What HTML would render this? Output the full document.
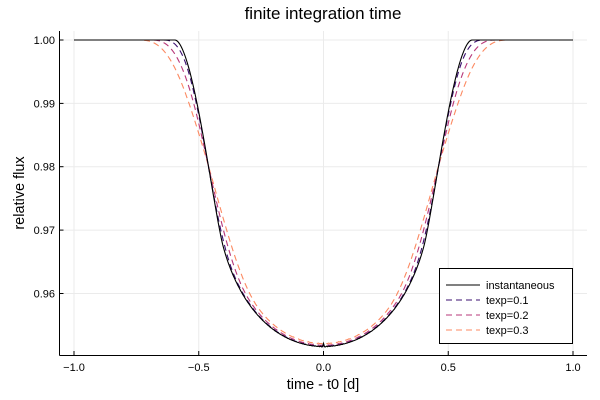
<!DOCTYPE html>
<html><head><meta charset="utf-8"><style>
html,body{margin:0;padding:0;background:#fff;}
svg{display:block;font-family:"Liberation Sans",sans-serif;}
</style></head><body>
<svg id="s" width="600" height="400" viewBox="0 0 600 400" xmlns="http://www.w3.org/2000/svg">
<rect width="600" height="400" fill="#fff"/>
<g stroke="#ebebeb" stroke-width="1">
<line x1="74" y1="31" x2="74" y2="355"/><line x1="198.75" y1="31" x2="198.75" y2="355"/>
<line x1="323.5" y1="31" x2="323.5" y2="355"/><line x1="448.25" y1="31" x2="448.25" y2="355"/>
<line x1="573" y1="31" x2="573" y2="355"/>
<line x1="59.5" y1="40" x2="587" y2="40"/><line x1="59.5" y1="103.4" x2="587" y2="103.4"/>
<line x1="59.5" y1="166.7" x2="587" y2="166.7"/><line x1="59.5" y1="230.1" x2="587" y2="230.1"/>
<line x1="59.5" y1="293.5" x2="587" y2="293.5"/>
</g>
<g stroke="#000" stroke-width="1">
<line x1="59.5" y1="31" x2="59.5" y2="355.5"/><line x1="59.5" y1="355.5" x2="587" y2="355.5"/>
<line x1="74" y1="355" x2="74" y2="351"/><line x1="198.75" y1="355" x2="198.75" y2="351"/>
<line x1="323.5" y1="355" x2="323.5" y2="351"/><line x1="448.25" y1="355" x2="448.25" y2="351"/>
<line x1="573" y1="355" x2="573" y2="351"/>
<line x1="59.5" y1="40" x2="63.5" y2="40"/><line x1="59.5" y1="103.4" x2="63.5" y2="103.4"/>
<line x1="59.5" y1="166.7" x2="63.5" y2="166.7"/><line x1="59.5" y1="230.1" x2="63.5" y2="230.1"/>
<line x1="59.5" y1="293.5" x2="63.5" y2="293.5"/>
</g>
<g font-size="11" fill="#000" text-anchor="end">
<text x="55" y="44">1.00</text><text x="55" y="107.4">0.99</text><text x="55" y="170.7">0.98</text>
<text x="55" y="234.1">0.97</text><text x="55" y="297.5">0.96</text>
</g>
<g font-size="11" fill="#000" text-anchor="middle">
<text x="74" y="371">−1.0</text><text x="198.75" y="371">−0.5</text><text x="323.5" y="371">0.0</text>
<text x="448.25" y="371">0.5</text><text x="573" y="371">1.0</text>
</g>
<text x="323" y="389" font-size="14.5" text-anchor="middle">time - t0 [d]</text>
<text transform="translate(24,193) rotate(-90)" font-size="14.5" text-anchor="middle">relative flux</text>
<text x="323" y="19" font-size="17" text-anchor="middle">finite integration time</text>
<g id="curves" fill="none" stroke-width="1.1"></g>
<rect x="439.5" y="268.5" width="133" height="75" fill="#fff" stroke="#000" stroke-width="1"/>
<g stroke-width="1.1">
<line x1="446" y1="285" x2="480" y2="285" stroke="#000"/>
<line x1="446" y1="300" x2="480" y2="300" stroke="#3b0f70" stroke-dasharray="6,4"/>
<line x1="446" y1="315" x2="480" y2="315" stroke="#b73779" stroke-dasharray="6,4"/>
<line x1="446" y1="330" x2="480" y2="330" stroke="#fc8961" stroke-dasharray="6,4"/>
</g>
<g font-size="11" fill="#000">
<text x="486" y="289">instantaneous</text><text x="486" y="304">texp=0.1</text>
<text x="486" y="319">texp=0.2</text><text x="486" y="334">texp=0.3</text>
</g>
</svg>
<script>
(function(){
var p=0.191,u1=0.6,u2=0.3,v=2.002,N=300;
function I(r){var mu=Math.sqrt(Math.max(0,1-r*r));return 1-u1*(1-mu)-u2*(1-mu)*(1-mu);}
var norm=0,dr=1/N;
for(var i=0;i<N;i++){var r=(i+0.5)*dr;norm+=I(r)*2*Math.PI*r*dr;}
function flux(t){var d=Math.abs(v*t);if(d>=1+p)return 1;var b=0;
for(var i=0;i<N;i++){var r=(i+0.5)*dr;var th;
if(d<1e-9){th=r<p?Math.PI:0;}else{
if(r<=p-d){th=Math.PI;}else if(r<=d-p||r>=d+p){th=0;}else{
var c=(r*r+d*d-p*p)/(2*r*d);c=Math.max(-1,Math.min(1,c));th=Math.acos(c);}}
b+=I(r)*2*th*r*dr;}
return 1-b/norm;}
function fx(t){return 323.5+t*249.5;}
function fy(f){return 40+(1-f)*6337.5;}
var M=500,base=[];
for(var k=0;k<=M;k++){var t=-1+2*k/M;base.push(t);}
var g=document.getElementById('curves');
var cfg=[[0,'#000',''],[0.1,'#3b0f70','6,4'],[0.2,'#b73779','6,4'],[0.3,'#fc8961','6,4']];
for(var j=cfg.length-1;j>=0;j--){var te=cfg[j][0],pts=[];
for(var k=0;k<base.length;k++){var t=base[k],f;
if(te===0)f=flux(t);else{var S=15,s=0;for(var q=0;q<S;q++){s+=flux(t-te/2+te*(q+0.5)/S);}f=s/S;}
pts.push(fx(t).toFixed(2)+','+fy(f).toFixed(2));}
var pl=document.createElementNS('http://www.w3.org/2000/svg','polyline');
pl.setAttribute('points',pts.join(' '));pl.setAttribute('stroke',cfg[j][1]);
if(cfg[j][2])pl.setAttribute('stroke-dasharray',cfg[j][2]);
g.appendChild(pl);}
})();
</script>
</body></html>
